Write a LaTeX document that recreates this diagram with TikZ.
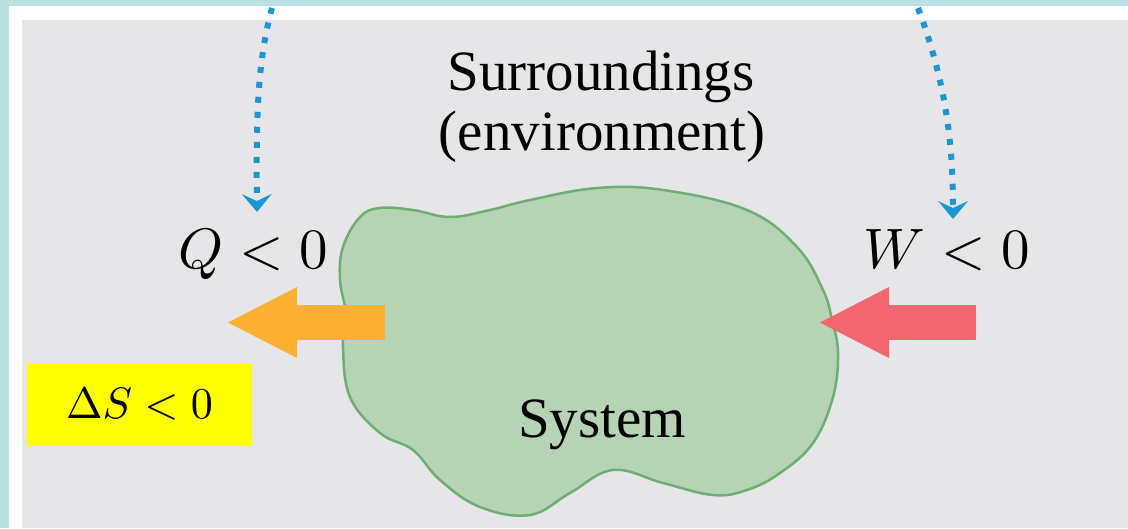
\documentclass[tikz,border=0pt]{standalone}
\usepackage{fontspec}
\setmainfont{Liberation Serif}
\usepackage{tikz}
\usetikzlibrary{arrows.meta}
\DeclareFontShape{OML}{cmm}{m}{it}{<->cmmi10}{}
\DeclareFontShape{OMS}{cmsy}{m}{n}{<->cmsy10}{}
\DeclareFontShape{OT1}{cmr}{m}{n}{<->cmr10}{}
\DeclareFontShape{OMX}{cmex}{m}{n}{<->cmex10}{}
\definecolor{frameblue}{HTML}{BAE0E4}
\definecolor{panelgray}{HTML}{E6E6E8}
\definecolor{blobfill}{HTML}{B7D3B5}
\definecolor{blobline}{HTML}{6DAE72}
\definecolor{heatorange}{HTML}{FBB032}
\definecolor{workred}{HTML}{F2666F}
\definecolor{dotblue}{HTML}{1A96D2}
\definecolor{markyellow}{RGB}{255,255,0}
\tikzstyle{textlbl} = [inner sep=0pt, anchor=base, font=\fontsize{57}{62}\selectfont]
\tikzstyle{entropy} = [rectangle, fill=markyellow, minimum width=225pt, minimum height=83pt, inner sep=0pt, font=\fontsize{44}{50}\selectfont]
\tikzstyle{flow} = [line width=35pt, -{Triangle[length=69pt,width=71pt,line width=0pt]}]
\tikzstyle{dotflow} = [draw=dotblue, line width=6pt, dash pattern=on 6pt off 9pt, -{Stealth[length=18pt,width=30pt,inset=7pt,line width=0pt]}]
\begin{document}
\begin{tikzpicture}[x=1pt, y=-1pt]
			\useasboundingbox (0,0) rectangle (1128,528);
			% frame and panel
			\fill[frameblue] (0,0) rectangle (1128,528);
			\fill[white] (9,6) rectangle (1128,528);
			\fill[panelgray] (22,20) rectangle (1128,528);
			% the system
			\draw[blobline, line width=2.5pt, fill=blobfill] plot[smooth cycle, tension=0.65] coordinates {
				(380,208) (413,210) (450,217) (490,210) (530,200) (597,188) (663,190)
				(747,210) (797,247) (823,290) (832,320) (838,353) (833,397) (813,443)
				(780,473) (747,490) (713,495) (663,483) (613,470) (570,493) (530,515)
				(480,507) (440,480) (413,450) (380,433) (350,397) (343,347) (346,315)
				(340,280) (343,247) (360,217)};
			\node[textlbl] (surr) at (601,90) {Surroundings};
			\node[textlbl] (env) at (602,150) {(environment)};
			\node[textlbl] (sys) at (602,437) {System};
			\node[textlbl, anchor=base east] (qlbl) at (328,268) {$Q < 0$};
			\node[textlbl, anchor=base east] (wlbl) at (1030,268) {$W < 0$};
			\node[entropy] (ds) at (139.5,404.5) {$\Delta S < 0$};
			% heat and work arrows
			\coordinate (qtail) at (385,322.5);
			\coordinate (qtip) at (228,322.5);
			\coordinate (wtail) at (976,322.5);
			\coordinate (wtip) at (820,322.5);
			\draw[flow, heatorange] (qtail) -- (qtip);
			\draw[flow, workred] (wtail) -- (wtip);
			% dotted pointers
			\coordinate (qtop) at (272,8);
			\coordinate (qend) at (257,212);
			\coordinate (wtop) at (918,8);
			\coordinate (wend) at (953,219);
			\draw[dotflow] (qtop) .. controls (258,60) and (256,110) .. (qend);
			\draw[dotflow] (wtop) .. controls (945,80) and (953,140) .. (wend);
\end{tikzpicture}
\end{document}
